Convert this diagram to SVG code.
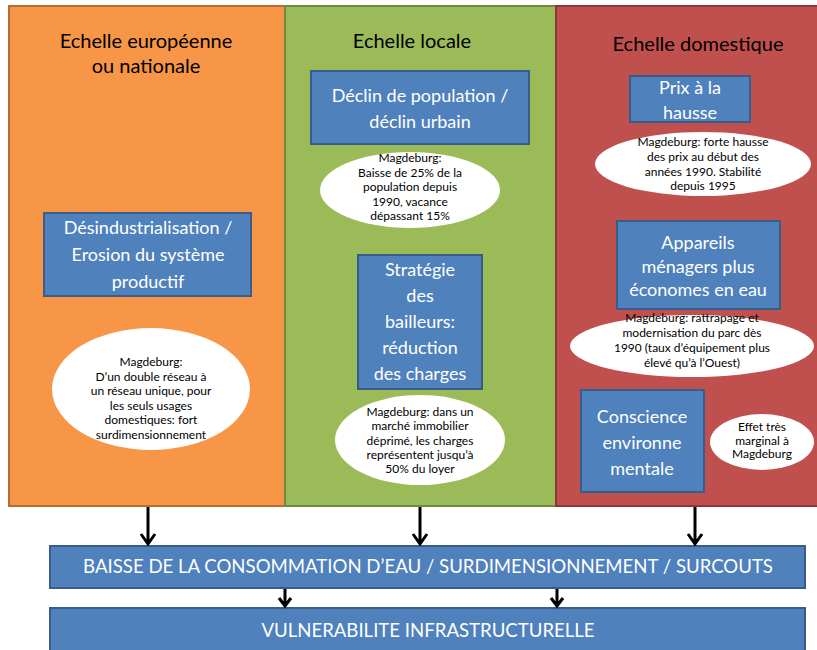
<svg xmlns="http://www.w3.org/2000/svg" width="817" height="650" viewBox="0 0 817 650">
<defs>
<style>
.bx{fill:#4F81BD;stroke:#385D8A;stroke-width:2}
.bt{fill:#fff;font-family:Lato,"Open Sans",sans-serif;font-size:18px;text-anchor:middle}
.bb{font-size:18.6px}
.el{fill:#fff;stroke:none}
.et{fill:#000;font-family:Lato,"Open Sans",sans-serif;font-size:12px;text-anchor:middle}
.tt{fill:#000;font-family:Lato,"Open Sans",sans-serif;font-size:20px;text-anchor:middle}
.ar{stroke:#000;stroke-width:3;fill:none}
</style>
</defs>
<rect width="817" height="650" fill="#fff"/>
<g id="panel-europe">
<rect x="9" y="6" width="276" height="500" fill="#F79646" stroke="#B66D31" stroke-width="2"/>
<text class="tt" x="146" y="48">Echelle européenne</text>
<text class="tt" x="146" y="73">ou nationale</text>
</g>
<g id="panel-locale">
<rect x="285" y="6" width="271" height="500" fill="#9BBB59" stroke="#71893F" stroke-width="2"/>
<text class="tt" x="412" y="48">Echelle locale</text>
</g>
<g id="panel-domestique">
<rect x="556" y="6" width="270" height="500" fill="#C0504D" stroke="#8C3836" stroke-width="2"/>
<text class="tt" x="698" y="51">Echelle domestique</text>
</g>
<g id="desind">
<rect class="bx" x="44" y="213" width="207" height="83"/>
<text class="bt" x="148" y="234">Désindustrialisation /</text>
<text class="bt" x="148" y="261">Erosion du système</text>
<text class="bt" x="148" y="288">productif</text>
</g>
<g id="ell-europe">
<ellipse class="el" cx="151" cy="389" rx="99" ry="61"/>
<text class="et" x="151" y="366">Magdeburg:</text>
<text class="et" x="151" y="380.5">D’un double réseau à</text>
<text class="et" x="151" y="395">un réseau unique, pour</text>
<text class="et" x="151" y="409.5">les seuls usages</text>
<text class="et" x="151" y="424">domestiques: fort</text>
<text class="et" x="151" y="438.5">surdimensionnement</text>
</g>
<g id="declin">
<rect class="bx" x="311" y="71" width="218" height="73"/>
<text class="bt" x="420" y="102">Déclin de population /</text>
<text class="bt" x="420" y="128">déclin urbain</text>
</g>
<g id="ell-pop">
<ellipse class="el" cx="410" cy="190" rx="90" ry="38"/>
<text class="et" x="410" y="162">Magdeburg:</text>
<text class="et" x="410" y="176.5">Baisse de 25% de la</text>
<text class="et" x="410" y="191">population depuis</text>
<text class="et" x="410" y="205.5">1990,  vacance</text>
<text class="et" x="410" y="220">dépassant 15%</text>
</g>
<g id="strategie">
<rect class="bx" x="358" y="255" width="124" height="134"/>
<text class="bt" x="420" y="276">Stratégie</text>
<text class="bt" x="420" y="302">des</text>
<text class="bt" x="420" y="328">bailleurs:</text>
<text class="bt" x="420" y="354">réduction</text>
<text class="bt" x="420" y="380">des charges</text>
</g>
<g id="ell-charges">
<ellipse class="el" cx="420" cy="440" rx="85" ry="45"/>
<text class="et" x="420" y="416">Magdeburg: dans un</text>
<text class="et" x="420" y="430">marché immobilier</text>
<text class="et" x="420" y="444.5">déprimé, les charges</text>
<text class="et" x="420" y="459">représentent jusqu’à</text>
<text class="et" x="420" y="473">50% du loyer</text>
</g>
<g id="prix">
<rect class="bx" x="630" y="76" width="120" height="46"/>
<text class="bt" x="690" y="94">Prix à la</text>
<text class="bt" x="690" y="119">hausse</text>
</g>
<g id="ell-prix">
<ellipse class="el" cx="703" cy="164" rx="108" ry="32"/>
<text class="et" x="703" y="146">Magdeburg: forte hausse</text>
<text class="et" x="703" y="161">des prix  au début des</text>
<text class="et" x="703" y="176">années 1990.  Stabilité</text>
<text class="et" x="703" y="190">depuis 1995</text>
</g>
<g id="appareils">
<rect class="bx" x="617" y="221" width="163" height="88"/>
<text class="bt" x="698" y="249">Appareils</text>
<text class="bt" x="698" y="273">ménagers plus</text>
<text class="bt" x="698" y="296">économes en eau</text>
</g>
<g id="ell-appareils">
<ellipse class="el" cx="692" cy="346" rx="122" ry="31"/>
<text class="et" x="692" y="322">Magdeburg: rattrapage et</text>
<text class="et" x="692" y="337">modernisation du parc dès</text>
<text class="et" x="692" y="352">1990  (taux d’équipement plus</text>
<text class="et" x="692" y="367">élevé qu’à l’Ouest)</text>
</g>
<g id="conscience">
<rect class="bx" x="581" y="390" width="123" height="102"/>
<text class="bt" x="642" y="423">Conscience</text>
<text class="bt" x="642" y="449">environne</text>
<text class="bt" x="642" y="475">mentale</text>
</g>
<g id="ell-conscience">
<ellipse class="el" cx="762" cy="442" rx="52" ry="28"/>
<text class="et" x="762" y="431">Effet très</text>
<text class="et" x="762" y="444.5">marginal  à</text>
<text class="et" x="762" y="458">Magdeburg</text>
</g>
<g id="baisse">
<rect class="bx" x="50" y="546" width="755" height="42"/>
<text class="bt bb" x="428" y="573">BAISSE DE LA CONSOMMATION D’EAU / SURDIMENSIONNEMENT / SURCOUTS</text>
</g>
<g id="vulnerabilite">
<rect class="bx" x="50" y="608" width="755" height="50"/>
<text class="bt bb" x="428" y="637">VULNERABILITE INFRASTRUCTURELLE</text>
</g>
<g id="connectors">
<path class="ar" d="M148 507V544M141 534L148 544L155 534"/>
<path class="ar" d="M420 507V544M413 534L420 544L427 534"/>
<path class="ar" d="M695 507V544M688 534L695 544L702 534"/>
<path class="ar" d="M285 589V606M279 598L285 606L291 598"/>
<path class="ar" d="M557 589V606M551 598L557 606L563 598"/>
</g>
</svg>
